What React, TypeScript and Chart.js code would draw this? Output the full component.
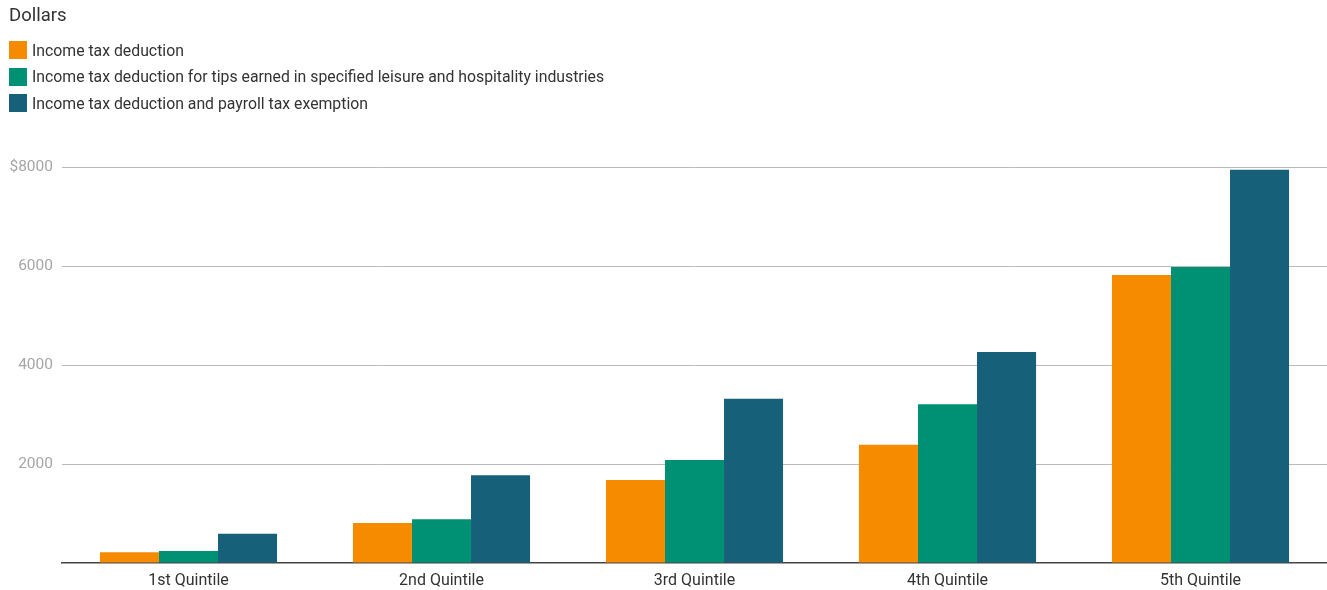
import React, { useEffect, useRef } from "react";
import { Chart, registerables } from "chart.js";

Chart.register(...registerables);

const categories = ["1st Quintile", "2nd Quintile", "3rd Quintile", "4th Quintile", "5th Quintile"];
const seriesNames = [
  "Income tax deduction",
  "Income tax deduction for tips earned in specified leisure and hospitality industries",
  "Income tax deduction and payroll tax exemption",
];
const incomeTaxDeduction = [216, 808, 1677, 2390, 5818];
const tipsDeduction = [242, 882, 2081, 3206, 5980];
const payrollExemption = [592, 1772, 3319, 4263, 7945];
const seriesColors = ["#F68B00", "#009174", "#17607A"];
const yTicks = [0, 2000, 4000, 6000, 8000];

const FONT = "Roboto, 'Noto Sans', sans-serif";

export default function App() {
  const ref = useRef<HTMLCanvasElement>(null);

  useEffect(() => {
    if (!ref.current) return;
    const chart = new Chart(ref.current, {
      type: "bar",
      data: {
        labels: categories,
        datasets: [incomeTaxDeduction, tipsDeduction, payrollExemption].map((d, i) => ({
          label: seriesNames[i],
          data: d,
          backgroundColor: seriesColors[i],
          borderWidth: 0,
          categoryPercentage: 0.7,
          barPercentage: 1,
        })),
      },
      options: {
        animation: false,
        responsive: false,
        maintainAspectRatio: false,
        layout: { padding: { top: 167, left: 0, right: 0, bottom: 0 } },
        plugins: { legend: { display: false }, tooltip: { enabled: false } },
        scales: {
          x: {
            grid: { display: false, drawTicks: false },
            border: { display: true, color: "#444", width: 1.5 },
            ticks: { color: "#333", font: { family: FONT, size: 16 }, padding: 8 },
            afterFit: (s: any) => { s.height = 27; },
          },
          y: {
            min: yTicks[0],
            max: yTicks[yTicks.length - 1],
            afterBuildTicks: (s: any) => { s.ticks = yTicks.map((v) => ({ value: v })); },
            grid: { color: (c: any) => (c.tick && c.tick.value === 0 ? "rgba(0,0,0,0)" : "#bbb"), drawTicks: false, lineWidth: 1 },
            border: { display: false },
            ticks: {
              color: "#a6a6a6",
              font: { family: FONT, size: 15.5 },
              padding: 9,
              callback: (v: any) => (v === 0 ? "" : v === 8000 ? "$" + v : String(v)),
            },
            afterFit: (s: any) => { s.width = 62; },
          },
        },
      },
    });
    return () => chart.destroy();
  }, []);

  return (
    <div style={{ position: "absolute", left: 0, top: 0, width: 1327, height: 590, background: "#fff", fontFamily: FONT, overflow: "hidden" }}>
      <canvas ref={ref} width={1327} height={590} style={{ position: "absolute", left: 0, top: 0, width: 1327, height: 590 }} />
      <div style={{ position: "absolute", left: 9, top: 4, fontSize: 18.5, color: "#333" }}>Dollars</div>
      {seriesNames.map((n, i) => (
        <div key={n} style={{ position: "absolute", left: 9, top: 40 + i * 26.5, display: "flex", alignItems: "center", height: 20 }}>
          <div style={{ width: 18, height: 18, background: seriesColors[i], marginRight: 5 }} />
          <span style={{ fontSize: 15.8, color: "#333" }}>{n}</span>
        </div>
      ))}
    </div>
  );
}
